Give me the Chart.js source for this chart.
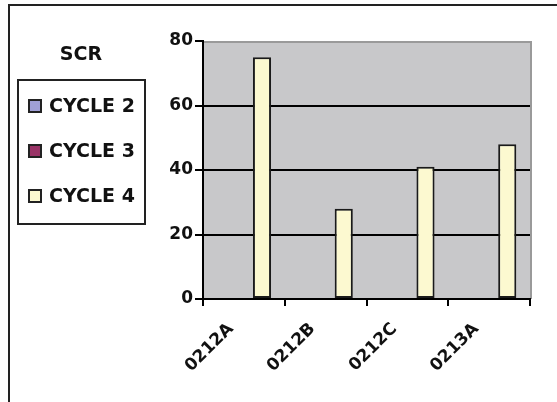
<!DOCTYPE html>
<html>
<head>
<meta charset="utf-8">
<script src="https://cdn.jsdelivr.net/npm/chart.js@4"></script>
<style>
  html, body { margin: 0; padding: 0; background: #fff; }
  #wrap { width: 557px; height: 402px; }
</style>
</head>
<body>
<div id="wrap"><canvas id="chart" width="557" height="402"></canvas></div>
<script>
// chart data
const categories = ["0212A", "0212B", "0212C", "0213A"];
const seriesNames = ["CYCLE 2", "CYCLE 3", "CYCLE 4"];
const cycle2 = [null, null, null, null];
const cycle3 = [null, null, null, null];
const cycle4 = [75, 28, 41, 48];
const yTicks = [0, 20, 40, 60, 80];
const legendTitle = "SCR";

const seriesColors = ["#A0A0D6", "#993366", "#FCF9D0"];
const FONT = '"DejaVu Sans", "Liberation Sans", Arial, sans-serif';

// grey plot area with a darker rim on top and right
const plotBg = {
  id: "plotBg",
  beforeDraw(chart) {
    const a = chart.chartArea, ctx = chart.ctx;
    ctx.save();
    ctx.fillStyle = "#C8C8CA";
    ctx.fillRect(a.left, a.top, a.right - a.left, a.bottom - a.top);
    ctx.strokeStyle = "#9A9A9A";
    ctx.lineWidth = 2;
    ctx.beginPath();
    ctx.moveTo(a.left, a.top + 1);
    ctx.lineTo(a.right + 1, a.top + 1);
    ctx.lineTo(a.right + 1, a.bottom);
    ctx.stroke();
    ctx.restore();
  }
};

// legend on the left, boxed, with title above the box
const sideLegend = {
  id: "sideLegend",
  afterDraw(chart) {
    const ctx = chart.ctx;
    ctx.save();
    ctx.font = "bold 19px " + FONT;
    ctx.fillStyle = "#111";
    ctx.textAlign = "center";
    ctx.textBaseline = "middle";
    ctx.fillText(legendTitle, 81, 55);

    ctx.lineWidth = 2;
    ctx.strokeStyle = "#222";
    ctx.strokeRect(18, 80, 127, 144);

    ctx.textAlign = "left";
    chart.data.datasets.forEach((ds, i) => {
      const y = 106 + i * 45;
      ctx.fillStyle = ds.backgroundColor;
      ctx.fillRect(29, y - 6, 12, 12);
      ctx.strokeRect(29, y - 6, 12, 12);
      ctx.fillStyle = "#111";
      ctx.fillText(ds.label, 49, y + 1);
    });

    // outer frame (top and left edges visible)
    ctx.beginPath();
    ctx.moveTo(9, 402);
    ctx.lineTo(9, 5);
    ctx.lineTo(557, 5);
    ctx.stroke();
    ctx.restore();
  }
};

const seriesData = [cycle2, cycle3, cycle4];

new Chart(document.getElementById("chart"), {
  type: "bar",
  data: {
    labels: categories,
    datasets: seriesNames.map((name, i) => ({
      label: name,
      data: seriesData[i],
      backgroundColor: seriesColors[i],
      borderColor: "#1A1A1A",
      borderWidth: 2,
      borderSkipped: false,
      barPercentage: 1,
      categoryPercentage: 0.665
    }))
  },
  options: {
    responsive: false,
    animation: false,
    devicePixelRatio: 1,
    layout: { padding: { left: 150, right: 27, top: 41, bottom: 0 } },
    plugins: {
      legend: { display: false },
      tooltip: { enabled: false }
    },
    scales: {
      x: {
        grid: {
          offset: true,
          drawOnChartArea: false,
          tickLength: 7,
          tickColor: "#000",
          lineWidth: 2
        },
        border: { color: "#000", width: 2 },
        ticks: {
          autoSkip: false,
          minRotation: 45,
          maxRotation: 45,
          color: "#111",
          padding: 13,
          labelOffset: -13,
          font: { family: FONT, size: 17, weight: "bold" }
        },
        afterFit(s) { s.height = 103; }
      },
      y: {
        min: yTicks[0],
        max: yTicks[yTicks.length - 1],
        afterBuildTicks(s) { s.ticks = yTicks.map(v => ({ value: v })); },
        grid: {
          color: c => (c.tick && (c.tick.value === 0 || c.tick.value === 80)) ? "rgba(0,0,0,0)" : "#000",
          lineWidth: 2,
          tickLength: 8,
          tickColor: "#000"
        },
        border: { color: "#000", width: 2 },
        ticks: {
          color: "#111",
          padding: 2,
          font: { family: FONT, size: 17, weight: "bold" }
        },
        afterFit(s) { s.width = 53; }
      }
    }
  },
  plugins: [plotBg, sideLegend]
});
</script>
</body>
</html>
